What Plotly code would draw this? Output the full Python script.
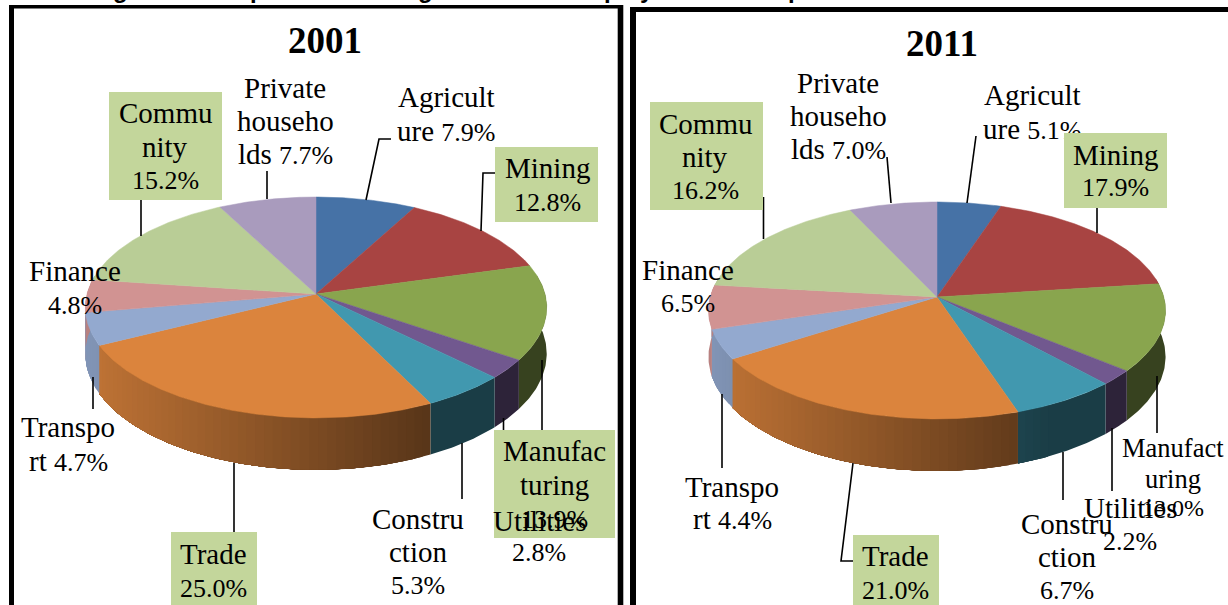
import numpy as np
import plotly.graph_objects as go

# ---------- data ----------
categories = ["Agriculture", "Mining", "Manufacturing", "Utilities", "Construction",
              "Trade", "Transport", "Finance", "Community", "Private households"]
values_2001 = [7.9, 12.8, 13.9, 2.8, 5.3, 25.0, 4.7, 4.8, 15.2, 7.7]
values_2011 = [5.1, 17.9, 13.0, 2.2, 6.7, 21.0, 4.4, 6.5, 16.2, 7.0]

# label wording, wrapped as in the source ("{v}" is the value of that category)
wrap_2001 = {
    "Agriculture": ["Agricult", "ure {v}"],
    "Mining": ["Mining", "{v}"],
    "Manufacturing": ["Manufac", "turing", "{v}"],
    "Utilities": ["Utilities", "{v}"],
    "Construction": ["Constru", "ction", "{v}"],
    "Trade": ["Trade", "{v}"],
    "Transport": ["Transpo", "rt {v}"],
    "Finance": ["Finance", "{v}"],
    "Community": ["Commu", "nity", "{v}"],
    "Private households": ["Private", "househo", "lds {v}"],
}
wrap_2011 = dict(wrap_2001)
wrap_2011["Manufacturing"] = ["Manufact", "uring", "{v}"]

# ---------- style / layout ----------
colors = ["#4672a6", "#a84442", "#89a54e", "#71588f", "#4198af",
          "#db843d", "#93a9cf", "#d19392", "#b9cd96", "#a99bbd"]
BOX = "#c3d69b"
FONT = "Liberation Serif"
FS = 29      # letters
FS_NUM = 26  # percentages

panel_2001 = dict(cx=316, cy=294, rx=229, ry=108.8, k=0.122, depth=45.6)
panel_2011 = dict(cx=937, cy=297, rx=226.8, ry=106.8, k=0.124, depth=45.6)

# centre x, then centre y of each line
pos_2001 = {
    "Agriculture": (446, [97, 131]),
    "Mining": (547, [168, 202]),
    "Manufacturing": (554, [451, 485, 519]),
    "Utilities": (539, [521, 552]),
    "Construction": (418, [519, 552, 585]),
    "Trade": (213, [554, 588]),
    "Transport": (68, [427, 461]),
    "Finance": (75, [271, 305]),
    "Community": (165, [113, 147, 180]),
    "Private households": (285, [88, 121, 154]),
}
pos_2011 = {
    "Agriculture": (1032, [95, 129]),
    "Mining": (1115, [155, 187]),
    "Manufacturing": (1173, [448, 479, 508]),
    "Utilities": (1130, [508, 541]),
    "Construction": (1067, [524, 557, 590]),
    "Trade": (895, [556, 590]),
    "Transport": (732, [487, 519]),
    "Finance": (688, [270, 303]),
    "Community": (705, [124, 157, 190]),
    "Private households": (838, [83, 116, 149]),
}
# x0, x1, y0, y1
boxes_2001 = {"Community": (109, 222, 92, 200), "Mining": (495, 598, 147, 222),
              "Manufacturing": (494, 615, 430, 538), "Trade": (171, 257, 532, 605)}
boxes_2011 = {"Community": (650, 763, 102, 210), "Mining": (1064, 1167, 133, 208),
              "Trade": (853, 939, 535, 605)}

leaders_2001 = [[(267, 171), (267, 199)], [(366, 200), (379, 139), (391, 139)],
                [(481, 231), (483, 173), (495, 173)], [(141, 200), (141, 236)],
                [(542, 360), (542, 430)], [(503.5, 418), (503.5, 430)],
                [(462, 443), (462, 499)], [(234, 463), (234, 532)], [(93, 377), (93, 409)]]
leaders_2011 = [[(887, 157), (891, 203)], [(976, 136), (967, 203)],
                [(1097, 208), (1097, 233)], [(763.5, 197), (763.5, 239)],
                [(1157, 376), (1157, 433)], [(1112, 428), (1112, 491)],
                [(1063, 452), (1063, 500)], [(853, 463), (841, 561), (853, 561)],
                [(722, 394), (722, 468)]]


def project(theta, p):
    X, Y = np.sin(theta), np.cos(theta)
    w = 1 + p["k"] * Y
    return p["cx"] + p["rx"] * X / w, p["cy"] - p["ry"] * Y / w, w


def shade(hex_color, n):
    s = float(np.clip(0.88 - (n + 1) * 0.48 / 1.5, 0.4, 0.88))
    r, g, b = (int(hex_color[i:i + 2], 16) for i in (1, 3, 5))
    return f"rgb({r * s:.0f},{g * s:.0f},{b * s:.0f})"


fig = go.Figure()


def add_pie(values, p):
    edges = np.radians(np.cumsum([0] + values) * 360.0 / sum(values))
    vis0, vis1 = np.radians(80), np.radians(280)
    # walls: each band reaches back to the start of its slice, later bands paint
    # over earlier ones from the dark end, so no seams show between them
    for i, col in enumerate(colors):
        a, b = max(edges[i], vis0), min(edges[i + 1], vis1)
        if b <= a:
            continue
        n = max(2, int(np.degrees(b - a) / 2.0) + 1)
        th = np.linspace(a, b, n + 1)
        last = None
        for t0, t1 in zip(th[:-1], th[1:]):
            xm, _, _ = project((t0 + t1) / 2, p)
            c = shade(col, (xm - p["cx"]) / p["rx"])
            if c == last:
                continue
            last = c
            t = np.linspace(a, t1, max(6, int(np.degrees(t1 - a))))
            t = np.linspace(t0, b, max(6, int(np.degrees(b - t0) * 1.5)))
            x, y, w = project(t, p)
            yb = y + p["depth"] / w
            fig.add_trace(go.Scatter(
                x=np.r_[x, x[::-1]], y=np.r_[y, yb[::-1]], mode="lines", fill="toself",
                fillcolor=c, line=dict(width=0), hoverinfo="skip"))
    # top face
    for i, col in enumerate(colors):
        t = np.linspace(edges[i], edges[i + 1], max(8, int(np.degrees(edges[i + 1] - edges[i]) * 2)))
        x, y, _ = project(t, p)
        fig.add_trace(go.Scatter(
            x=np.r_[p["cx"], x, p["cx"]], y=np.r_[p["cy"], y, p["cy"]], mode="lines",
            fill="toself", fillcolor=col, line=dict(color=col, width=0.5),
            name=categories[i], hoverinfo="name"))


def add_leaders(leaders):
    xs, ys = [], []
    for seg in leaders:
        xs += [q[0] for q in seg] + [None]
        ys += [q[1] for q in seg] + [None]
    fig.add_trace(go.Scatter(x=xs, y=ys, mode="lines",
                             line=dict(color="black", width=1.6), hoverinfo="skip"))


annotations = []


def text(x, y, s, size=FS, bold=False):
    annotations.append(dict(x=x, y=y, xref="x", yref="y", text=f"<b>{s}</b>" if bold else s,
                            showarrow=False, xanchor="center", yanchor="middle",
                            font=dict(family=FONT, size=size, color="black")))


def put_box(name, boxes):
    x0, x1, y0, y1 = boxes[name]
    annotations.append(dict(x=x0, y=y0, xref="x", yref="y", text=" ", showarrow=False,
                            xanchor="left", yanchor="top", width=x1 - x0, height=y1 - y0,
                            bgcolor=BOX, borderpad=0, borderwidth=0))


def put_label(name, values, wrap, pos, sizes):
    fs, fn = (sizes or {}).get(name, (FS, FS_NUM))
    v = f'<span style="font-size:{fn}px">{values[categories.index(name)]:.1f}%</span>'
    x, ys = pos[name]
    for line, y in zip(wrap[name], ys):
        text(x, y, line.format(v=v), fs)


def add_labels(values, wrap, pos, boxes, sizes=None):
    # the Manufacturing box lies under the neighbouring Utilities label
    if "Manufacturing" in boxes:
        put_box("Manufacturing", boxes)
    for name in categories:
        if name not in boxes or name == "Manufacturing":
            put_label(name, values, wrap, pos, sizes)
    # the other boxes are on top of any label they reach
    for name in categories:
        if name in boxes and name != "Manufacturing":
            put_box(name, boxes)
            put_label(name, values, wrap, pos, sizes)


add_pie(values_2001, panel_2001)
add_pie(values_2011, panel_2011)
add_leaders(leaders_2001)
add_leaders(leaders_2011)
add_labels(values_2001, wrap_2001, pos_2001, boxes_2001)
add_labels(values_2011, wrap_2011, pos_2011, boxes_2011, sizes={"Manufacturing": (26.5, 24)})
text(325, 40, "2001", 37, True)
text(942, 43, "2011", 37, True)

# clipped descenders of the caption line above the panels
for cx, ch in [(120, "g"), (257, "p"), (425, "g"), (611, "p"), (647, "y"), (795, "p")]:
    annotations.append(dict(x=cx, y=0, xref="x", yref="y", text=f"<b>{ch}</b>", showarrow=False,
                            xanchor="center", yanchor="bottom", yshift=-5,
                            font=dict(family="Liberation Sans", size=24, color="black")))

# panel frames (open at the foot and, for the right one, at the right)
frames = [(9, 14, 5, 605), (9, 623, 5, 8.5), (617.7, 623.3, 5, 605),
          (630, 636, 7, 605), (630, 1228, 7, 12)]
shapes = [dict(type="rect", xref="x", yref="y", x0=a, x1=b, y0=c, y1=d,
               fillcolor="black", line=dict(width=0), layer="above") for a, b, c, d in frames]

fig.update_layout(
    width=1228, height=605, margin=dict(l=0, r=0, t=0, b=0), autosize=False,
    paper_bgcolor="white", plot_bgcolor="white", showlegend=False,
    xaxis=dict(range=[0, 1228], visible=False, fixedrange=True),
    yaxis=dict(range=[605, 0], visible=False, fixedrange=True),
    annotations=annotations, shapes=shapes,
)
fig.write_html("out.html", config={"displayModeBar": False},
               post_script="document.body.style.margin='0';document.body.style.overflow='hidden';")
